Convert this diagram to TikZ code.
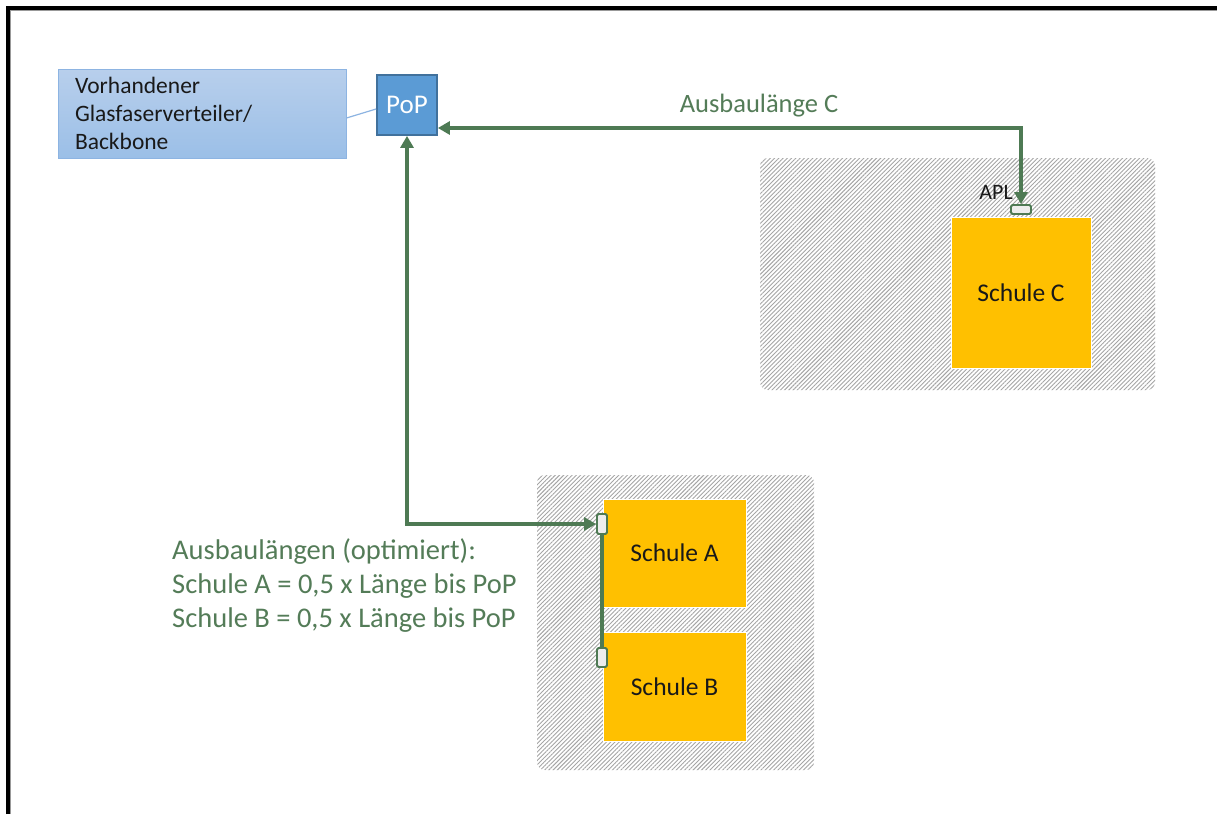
\documentclass[tikz,border=0pt]{standalone}
\usepackage{fontspec}
\setmainfont{Carlito}
\usetikzlibrary{arrows.meta,patterns.meta,shadings}
\definecolor{gline}{RGB}{78,122,84}
\definecolor{gtext}{RGB}{84,124,88}
\definecolor{popfill}{RGB}{91,155,213}
\definecolor{popdraw}{RGB}{65,113,156}
\definecolor{desctop}{RGB}{184,207,236}
\definecolor{descbot}{RGB}{155,191,231}
\definecolor{descdraw}{RGB}{141,180,226}
\definecolor{schul}{RGB}{255,192,0}
\definecolor{hatch}{RGB}{165,165,165}
\tikzset{
  zone/.style={pattern={Lines[angle=45,distance=3pt,line width=0.9pt]},pattern color=hatch,rounded corners=8pt},
  schule/.style={rectangle,fill=schul,draw=white,line width=1pt,inner sep=0pt,font=\fontsize{25.5}{30}\selectfont,text=black!90},
  conn/.style={rectangle,rounded corners=1.5pt,fill=black!7,draw=gline,line width=1.8pt,inner sep=0pt},
  garrow/.style={draw=gline,line width=3.2pt,{Triangle[length=12pt,width=13pt]}-{Triangle[length=12pt,width=13pt]}},
  gtxt/.style={text=gtext,inner sep=0pt}
}
\begin{document}
\begin{tikzpicture}[x=1pt,y=-1pt]
\useasboundingbox (0,0) rectangle (1217,814);
\fill[white] (0,0) rectangle (1217,814);
% frame
\draw[black!40,line width=1.2pt] (10.8,814) -- (10.8,10.8) -- (1217,10.8);
\draw[black,line width=3.2pt] (8,814) -- (8,8) -- (1217,8);
% hatched zones
\fill[zone] (760,158) rectangle (1155,390);
\fill[zone] (537,475) rectangle (814,770);
% description box
\node[rectangle,top color=desctop,bottom color=descbot,draw=descdraw,line width=1pt,
  minimum width=288pt,minimum height=89pt,inner xsep=17pt,inner ysep=0pt,text width=254pt,align=left,
  font=\fontsize{23.5}{28}\selectfont,text=black!90] (desc) at (202,113.5)
  {Vorhandener\\Glasfaserverteiler/\\Backbone};
% PoP
\node[rectangle,fill=popfill,draw=popdraw,line width=1.8pt,minimum size=60pt,inner sep=0pt,
  text=white,font=\fontsize{27}{30}\selectfont] (pop) at (407,105) {PoP};
\draw[descdraw,line width=1.2pt] ([yshift=-4.5pt]desc.east) -- ([yshift=-4pt]pop.west);
% Schule C
\node[schule,minimum width=140pt,minimum height=151pt] (sc) at (1021,292.5) {Schule C};
\node[conn,minimum width=20pt,minimum height=9pt] (apl) at (1021,209.5) {};
\node[anchor=east,inner sep=0pt,font=\fontsize{22}{26}\selectfont,text=black!90] (apllbl) at (1013,192) {APL};
\coordinate (cC) at (1021,128);
\draw[garrow] (pop.east |- cC) -- (cC) -- (apl.north);
\node[gtxt,font=\fontsize{26.5}{30}\selectfont] (lblC) at (759,106) {Ausbaulänge C};
% Schule A and B
\node[schule,minimum width=143pt,minimum height=108pt] (sa) at (674.5,553) {Schule A};
\node[schule,minimum width=143pt,minimum height=109pt] (sb) at (674.5,686.5) {Schule B};
\node[conn,minimum width=10pt,minimum height=20pt] (ca) at (602,524) {};
\node[conn,minimum width=10pt,minimum height=19pt] (cb) at (602,657.5) {};
\draw[gline,line width=3.2pt] (ca.south) -- (cb.north);
\draw[garrow] (pop.south) |- (ca.west);
\node[gtxt,anchor=west,align=left,font=\fontsize{28.5}{34}\selectfont] (lblAB) at (172,586)
  {Ausbaulängen (optimiert):\\Schule A = 0,5 x Länge bis PoP\\Schule B = 0,5 x Länge bis PoP};
\end{tikzpicture}
\end{document}
